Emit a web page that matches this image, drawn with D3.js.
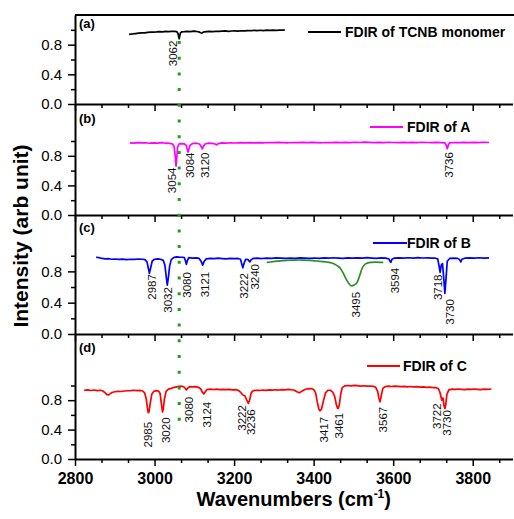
<!DOCTYPE html>
<html>
<head>
<meta charset="utf-8">
<script src="https://cdn.jsdelivr.net/npm/d3@7/dist/d3.min.js"></script>
<style>
    body { margin: 0; background: #fff; }
    svg { display: block; font-family: Arial, "Liberation Sans", sans-serif; }
    .axis path, .axis line { stroke: #000; }
</style>
</head>
<body>
<div id="spectraDiv"></div>
<script>
// tick labels
const xTicks = [2800, 3000, 3200, 3400, 3600, 3800];
const yTicks = [0.0, 0.4, 0.8];
const yMinorTicks = [0.2, 0.6, 1.0];

// legend names
const seriesNames = ['FDIR of TCNB monomer', 'FDIR of A', 'FDIR of B', 'FDIR of C'];
const panelLetters = ['(a)', '(b)', '(c)', '(d)'];

// marker line (wavenumber)
const markerLine = 3062;

// spectra [wavenumber, intensity]
const monomer = [[2936,0.94],[2945,0.945],[2952,0.95],[2960,0.955],[2968,0.96],[2975,0.958],[2983,0.965],[2990,0.968],[2998,0.97],[3005,0.972],[3012,0.975],[3020,0.973],[3028,0.978],[3035,0.976],[3042,0.98],[3050,0.978],[3056,0.975],[3059,0.95],[3061,0.9],[3062,0.88],[3063,0.91],[3065,0.955],[3068,0.972],[3075,0.975],[3082,0.98],[3090,0.977],[3098,0.982],[3105,0.978],[3112,0.972],[3116,0.96],[3119,0.955],[3123,0.97],[3130,0.975],[3138,0.978],[3146,0.975],[3154,0.98],[3162,0.978],[3170,0.982],[3178,0.985],[3186,0.98],[3194,0.984],[3202,0.986],[3210,0.982],[3218,0.988],[3226,0.985],[3234,0.99],[3242,0.988],[3250,0.992],[3258,0.99],[3266,0.994],[3274,0.99],[3282,0.995],[3290,0.992],[3298,0.996],[3306,0.994],[3314,0.997],[3322,0.995],[3328,0.998]];

const specA = [[2938,0.975],[2948,0.972],[2958,0.978],[2968,0.974],[2978,0.976],[2988,0.97],[2998,0.975],[3008,0.972],[3018,0.977],[3028,0.97],[3038,0.968],[3045,0.96],[3049,0.93],[3052,0.8],[3054,0.66],[3056,0.78],[3058,0.92],[3062,0.96],[3068,0.965],[3075,0.96],[3080,0.94],[3083,0.87],[3084,0.85],[3086,0.88],[3089,0.94],[3095,0.965],[3105,0.97],[3113,0.96],[3117,0.93],[3120,0.895],[3123,0.93],[3127,0.96],[3135,0.97],[3145,0.968],[3152,0.96],[3156,0.948],[3160,0.965],[3170,0.975],[3180,0.972],[3192,0.976],[3204,0.973],[3216,0.978],[3228,0.975],[3240,0.979],[3252,0.974],[3264,0.978],[3276,0.976],[3288,0.98],[3300,0.977],[3312,0.981],[3324,0.978],[3336,0.976],[3348,0.98],[3360,0.977],[3372,0.981],[3384,0.978],[3396,0.982],[3408,0.979],[3420,0.976],[3432,0.98],[3444,0.977],[3456,0.981],[3468,0.978],[3480,0.982],[3492,0.979],[3504,0.983],[3516,0.98],[3528,0.984],[3540,0.981],[3552,0.978],[3564,0.982],[3576,0.979],[3588,0.983],[3600,0.98],[3612,0.977],[3624,0.981],[3636,0.978],[3648,0.982],[3660,0.979],[3672,0.983],[3684,0.98],[3696,0.977],[3708,0.981],[3720,0.978],[3730,0.975],[3733,0.95],[3736,0.895],[3739,0.95],[3742,0.976],[3754,0.98],[3766,0.977],[3778,0.981],[3790,0.978],[3802,0.982],[3814,0.979],[3826,0.983],[3841,0.98]];

const specB = [[2853,0.98],[2860,0.975],[2868,0.965],[2876,0.96],[2884,0.962],[2892,0.955],[2900,0.958],[2910,0.952],[2920,0.956],[2930,0.95],[2940,0.955],[2950,0.952],[2960,0.958],[2970,0.955],[2976,0.95],[2981,0.92],[2984,0.85],[2987,0.775],[2990,0.84],[2994,0.93],[3000,0.955],[3008,0.96],[3015,0.955],[3022,0.94],[3026,0.88],[3029,0.75],[3032,0.625],[3035,0.73],[3038,0.87],[3042,0.95],[3048,0.975],[3055,0.985],[3062,0.982],[3070,0.98],[3075,0.975],[3078,0.93],[3080,0.89],[3082,0.93],[3086,0.975],[3095,0.97],[3105,0.972],[3112,0.965],[3117,0.93],[3121,0.88],[3125,0.93],[3130,0.96],[3140,0.965],[3150,0.962],[3160,0.968],[3170,0.964],[3180,0.96],[3190,0.966],[3200,0.962],[3210,0.965],[3216,0.955],[3219,0.9],[3222,0.846],[3225,0.9],[3229,0.955],[3235,0.95],[3238,0.93],[3240,0.923],[3243,0.95],[3248,0.965],[3258,0.968],[3270,0.964],[3282,0.97],[3294,0.966],[3306,0.972],[3318,0.968],[3330,0.965],[3342,0.971],[3354,0.967],[3366,0.973],[3378,0.969],[3390,0.965],[3402,0.971],[3414,0.967],[3426,0.972],[3438,0.968],[3450,0.974],[3462,0.97],[3474,0.966],[3486,0.972],[3498,0.968],[3510,0.973],[3522,0.969],[3534,0.975],[3546,0.97],[3558,0.966],[3570,0.972],[3582,0.968],[3589,0.96],[3592,0.93],[3594,0.915],[3597,0.955],[3602,0.968],[3614,0.972],[3626,0.968],[3638,0.974],[3650,0.97],[3662,0.975],[3674,0.971],[3686,0.973],[3698,0.969],[3706,0.968],[3712,0.96],[3715,0.88],[3718,0.787],[3721,0.88],[3724,0.9],[3727,0.72],[3730,0.518],[3733,0.72],[3736,0.93],[3742,0.965],[3752,0.97],[3762,0.966],[3767,0.95],[3770,0.92],[3773,0.955],[3780,0.968],[3792,0.972],[3804,0.968],[3816,0.974],[3828,0.97],[3841,0.972]];

const specBband = [[3282,0.915],[3292,0.92],[3302,0.928],[3312,0.932],[3322,0.936],[3332,0.94],[3342,0.943],[3352,0.944],[3362,0.945],[3372,0.944],[3382,0.942],[3392,0.94],[3402,0.935],[3412,0.93],[3422,0.925],[3432,0.92],[3442,0.912],[3452,0.895],[3460,0.87],[3467,0.84],[3475,0.77],[3483,0.69],[3490,0.635],[3495,0.615],[3502,0.625],[3510,0.667],[3516,0.75],[3522,0.84],[3528,0.885],[3535,0.905],[3545,0.915],[3555,0.918],[3565,0.916],[3575,0.915]];

const specC = [[2823,0.935],[2832,0.94],[2840,0.932],[2848,0.938],[2856,0.93],[2864,0.935],[2870,0.925],[2876,0.9],[2880,0.875],[2884,0.87],[2888,0.885],[2893,0.905],[2900,0.915],[2908,0.92],[2916,0.918],[2924,0.925],[2932,0.928],[2940,0.93],[2948,0.935],[2956,0.93],[2964,0.932],[2970,0.925],[2975,0.9],[2979,0.82],[2982,0.7],[2984,0.63],[2986,0.64],[2989,0.75],[2993,0.88],[2998,0.92],[3004,0.93],[3010,0.925],[3014,0.89],[3017,0.76],[3020,0.64],[3022,0.68],[3025,0.82],[3029,0.92],[3035,0.95],[3042,0.96],[3050,0.975],[3058,0.985],[3065,0.99],[3072,0.985],[3076,0.97],[3080,0.94],[3083,0.96],[3088,0.985],[3095,0.98],[3102,0.984],[3110,0.975],[3116,0.955],[3120,0.91],[3124,0.885],[3127,0.91],[3132,0.945],[3140,0.95],[3148,0.945],[3156,0.95],[3164,0.944],[3172,0.948],[3180,0.943],[3188,0.946],[3196,0.94],[3204,0.944],[3210,0.935],[3216,0.91],[3222,0.87],[3227,0.86],[3232,0.8],[3236,0.756],[3239,0.8],[3243,0.9],[3248,0.93],[3256,0.935],[3264,0.932],[3272,0.938],[3280,0.934],[3288,0.94],[3296,0.936],[3304,0.942],[3312,0.938],[3320,0.944],[3328,0.94],[3336,0.946],[3344,0.942],[3352,0.935],[3358,0.915],[3364,0.9],[3370,0.92],[3378,0.945],[3386,0.955],[3394,0.958],[3400,0.945],[3405,0.9],[3409,0.78],[3413,0.68],[3416,0.655],[3420,0.68],[3425,0.8],[3430,0.9],[3436,0.935],[3442,0.935],[3448,0.91],[3453,0.85],[3457,0.74],[3460,0.69],[3462,0.688],[3465,0.75],[3468,0.88],[3472,0.97],[3478,0.995],[3486,1.0],[3494,0.995],[3502,1.002],[3510,0.998],[3518,0.992],[3526,0.996],[3534,0.99],[3542,0.993],[3550,0.988],[3556,0.975],[3561,0.92],[3564,0.83],[3567,0.778],[3570,0.86],[3574,0.96],[3580,0.985],[3588,0.99],[3596,0.986],[3604,0.992],[3612,0.988],[3620,0.984],[3628,0.988],[3636,0.982],[3644,0.986],[3652,0.98],[3660,0.984],[3668,0.978],[3676,0.98],[3684,0.975],[3692,0.978],[3700,0.972],[3708,0.97],[3714,0.955],[3718,0.9],[3722,0.8],[3725,0.83],[3728,0.72],[3730,0.687],[3732,0.73],[3735,0.88],[3740,0.94],[3748,0.95],[3756,0.946],[3764,0.952],[3772,0.948],[3780,0.944],[3788,0.95],[3796,0.946],[3804,0.952],[3812,0.948],[3820,0.944],[3828,0.95],[3836,0.947],[3847,0.952]];

// peak labels [text, wavenumber at label centre, intensity at label top]
const labelsMonomer = [['3062', 3046, 0.854]];
const labelsA = [['3054', 3044, 0.641], ['3084', 3089, 0.845], ['3120', 3128, 0.845], ['3736', 3740, 0.849]];
const labelsB = [['2987', 2993, 0.765], ['3032', 3034, 0.599], ['3080', 3082, 0.79], ['3121', 3128, 0.795],
                 ['3222', 3225, 0.778], ['3240', 3252, 0.894], ['3495', 3506, 0.538], ['3594', 3604, 0.846],
                 ['3718', 3713, 0.76], ['3730', 3742, 0.445]];
const labelsC = [['2985', 2984, 0.505], ['3020', 3028, 0.565], ['3080', 3086, 0.846], ['3124', 3131, 0.778],
                 ['3222', 3219, 0.733], ['3236', 3242, 0.674], ['3417', 3426, 0.573], ['3461', 3464, 0.628],
                 ['3567', 3575, 0.71], ['3722', 3709, 0.756], ['3730', 3736, 0.664]];

class SpectraPlot {
    constructor() {
        this.width = 514;
        this.height = 519;
        this.left = 75;
        this.right = 512.5;
        // panel pixel bands and y-domain tops
        this.panels = [
            { top: 15,  bottom: 104, yMax: 1.2,  spectra: [monomer], colors: ['#000000'], labels: labelsMonomer,
              legend: { x1: 308, x2: 341, tx: 345, y: 32 }, letterY: 28 },
            { top: 104, bottom: 215, yMax: 1.5,  spectra: [specA], colors: ['#ff00ff'], labels: labelsA,
              legend: { x1: 370, x2: 403, tx: 407, y: 127 }, letterY: 123 },
            { top: 215, bottom: 334, yMax: 1.52, spectra: [specB, specBband], colors: ['#0000ff', '#2a9022'], labels: labelsB,
              legend: { x1: 373, x2: 407, tx: 407, y: 243 }, letterY: 232 },
            { top: 334, bottom: 459, yMax: 1.7,  spectra: [specC], colors: ['#ff0000'], labels: labelsC,
              legend: { x1: 367, x2: 400, tx: 403, y: 366 }, letterY: 352 }
        ];
        this.drawPlot();
    }

    drawPlot() {
        this.svg = d3.select('#spectraDiv')
            .append('svg')
            .attr('width', this.width)
            .attr('height', this.height);

        let x = d3.scaleLinear().domain([2800, 3900]).range([this.left, this.right]);
        let xMinor = d3.range(2800, 3900, 200 / 3).filter(v => Math.abs((v - 2800) % 200) > 1 && Math.abs((v - 2800) % 200 - 200) > 1);

        this.panels.forEach((p, i) => {
            let y = d3.scaleLinear().domain([0, p.yMax]).range([p.bottom, p.top]);
            let g = this.svg.append('g').classed('panel', true);
            let last = i === this.panels.length - 1;

            // spectra
            p.spectra.forEach((s, k) => {
                let line = d3.line()
                    .x(d => x(d[0]))
                    .y(d => y(d[1]))
                    .curve(k === 1 ? d3.curveMonotoneX : d3.curveLinear);
                g.append('path')
                    .datum(s)
                    .attr('d', line)
                    .attr('fill', 'none')
                    .attr('stroke', p.colors[k])
                    .attr('stroke-width', 1.7)
                    .attr('stroke-linejoin', 'round');
            });

            // peak labels
            g.selectAll('text.peak')
                .data(p.labels)
                .enter()
                .append('text')
                .classed('peak', true)
                .text(d => d[0])
                .attr('text-anchor', 'end')
                .attr('font-size', '11.5px')
                .attr('fill', '#111')
                .attr('transform', d => 'translate(' + (x(d[1]) + 4) + ',' + y(d[2]) + ') rotate(-90)');

            // x axis (bottom of each panel)
            g.append('g')
                .classed('axis', true)
                .attr('transform', 'translate(0,' + p.bottom + ')')
                .call(d3.axisBottom(x).tickValues(xMinor).tickSize(4).tickSizeOuter(0).tickFormat(''))
                .call(a => a.select('.domain').remove())
                .selectAll('line').attr('stroke-width', 1.5);
            let xa = g.append('g')
                .classed('axis', true)
                .attr('transform', 'translate(0,' + p.bottom + ')')
                .call(d3.axisBottom(x).tickValues(xTicks).tickSize(7).tickSizeOuter(0).tickPadding(7)
                    .tickFormat(last ? d3.format('d') : ''));
            xa.select('.domain').attr('stroke-width', 2);
            xa.selectAll('line').attr('stroke-width', 1.5);
            xa.selectAll('text').attr('font-size', '16px').attr('font-weight', 'bold').attr('fill', '#000');

            // y axis
            g.append('g')
                .classed('axis', true)
                .attr('transform', 'translate(' + this.left + ',0)')
                .call(d3.axisLeft(y).tickValues(yMinorTicks).tickSize(4).tickSizeOuter(0).tickFormat(''))
                .call(a => a.select('.domain').remove())
                .selectAll('line').attr('stroke-width', 1.5);
            let ya = g.append('g')
                .classed('axis', true)
                .attr('transform', 'translate(' + this.left + ',0)')
                .call(d3.axisLeft(y).tickValues(yTicks).tickSize(7).tickSizeOuter(0).tickPadding(6)
                    .tickFormat(d3.format('.1f')));
            ya.select('.domain').attr('stroke-width', 2);
            ya.selectAll('line').attr('stroke-width', 1.5);
            ya.selectAll('text').attr('font-size', '15px').attr('fill', '#000');

            // panel letter
            g.append('text')
                .text(panelLetters[i])
                .attr('x', this.left + 4)
                .attr('y', p.letterY)
                .attr('font-size', '13px')
                .attr('font-weight', 'bold');

            // legend
            g.append('line')
                .attr('x1', p.legend.x1).attr('x2', p.legend.x2)
                .attr('y1', p.legend.y).attr('y2', p.legend.y)
                .attr('stroke', p.colors[0])
                .attr('stroke-width', 2);
            g.append('text')
                .text(seriesNames[i])
                .attr('x', p.legend.tx)
                .attr('y', p.legend.y + 5)
                .attr('font-size', '14px')
                .attr('font-weight', 'bold');
        });

        // top frame line
        this.svg.append('line')
            .attr('x1', this.left).attr('x2', this.width)
            .attr('y1', this.panels[0].top).attr('y2', this.panels[0].top)
            .attr('stroke', '#000')
            .attr('stroke-width', 2);

        // green dotted marker
        this.svg.append('line')
            .attr('x1', x(markerLine)).attr('x2', x(markerLine))
            .attr('y1', 41).attr('y2', 423)
            .attr('stroke', '#1ea01e')
            .attr('stroke-width', 3)
            .attr('stroke-dasharray', '3,12.7');

        // axis titles
        this.svg.append('text')
            .attr('text-anchor', 'middle')
            .attr('font-size', '21px')
            .attr('font-weight', 'bold')
            .attr('transform', 'translate(28, 236) rotate(-90)')
            .text('Intensity (arb unit)');
        let xt = this.svg.append('text')
            .attr('text-anchor', 'middle')
            .attr('font-size', '20px')
            .attr('font-weight', 'bold')
            .attr('x', (this.left + this.right) / 2)
            .attr('y', 506);
        xt.append('tspan').text('Wavenumbers (cm');
        xt.append('tspan').text('-1').attr('font-size', '12px').attr('dy', -8);
        xt.append('tspan').text(')').attr('dy', 8);
    }
}

new SpectraPlot();
</script>
</body>
</html>
